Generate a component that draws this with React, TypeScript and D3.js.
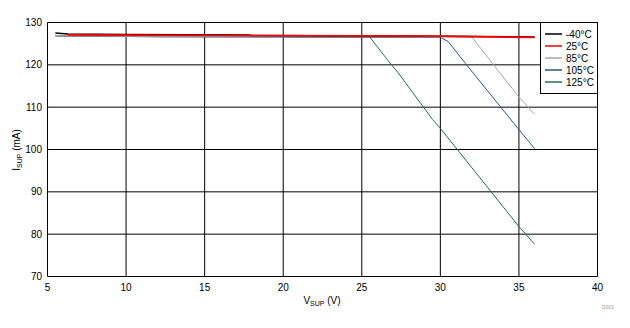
import React from "react";
import * as d3 from "d3";

const seriesNames = ["-40°C", "25°C", "85°C", "105°C", "125°C"];
const seriesColors = ["#000000", "#ff0000", "#a6a6a6", "#2a5a7c", "#2b6b4c"];

const sM40: [number, number][] = [[5.5, 127.5], [6.3, 127.3], [10, 127.15], [17.8, 127.05], [18, 126.95], [32.5, 126.7], [36, 126.6]];
const s25: [number, number][] = [[6.3, 127.1], [10, 127.0], [20, 126.9], [30, 126.8], [33, 126.6], [36, 126.5]];
const s85: [number, number][] = [[5.5, 126.9], [12, 126.7], [20, 126.7], [32, 126.6], [33.3, 120.4], [35, 112.4], [36, 108.3]];
const s105: [number, number][] = [[5.5, 126.9], [12, 126.6], [25, 126.5], [30, 126.5], [30.5, 125.5], [31.6, 120.3], [35, 104.7], [36, 100.2]];
const s125: [number, number][] = [[5.5, 126.8], [12, 126.7], [25, 126.7], [25.5, 126.6], [26.8, 120.4], [27.3, 118.2], [29.5, 107.1], [30, 105], [35, 81.8], [36, 77.6]];

const seriesData = [sM40, s25, s85, s105, s125];
const seriesWidths = [1.5, 1.8, 1, 1, 1];
const drawOrder = [4, 3, 2, 0, 1];

const xTicks = [5, 10, 15, 20, 25, 30, 35, 40];
const yTicks = [70, 80, 90, 100, 110, 120, 130];

export default function App() {
  const W = 630, H = 328;
  const left = 47.5, right = 597.5, top = 22.5, bottom = 276.5;
  const x = d3.scaleLinear().domain([5, 40]).range([left, right]);
  const y = d3.scaleLinear().domain([70, 130]).range([bottom, top]);
  const line = d3.line<[number, number]>().x(d => x(d[0])).y(d => y(d[1]));
  const font = "Arial, 'Liberation Sans', sans-serif";
  const legX = 540.5, legY = 22.5, legW = 57, legH = 71;
  return (
    <svg width={W} height={H} style={{ position: "absolute", left: 0, top: 0 }} fontFamily={font}>
      <rect x={0} y={0} width={W} height={H} fill="#fff" />
      {xTicks.map(t => (
        <line key={"gx" + t} x1={x(t)} x2={x(t)} y1={top} y2={bottom} stroke="#000" strokeWidth={1} />
      ))}
      {yTicks.map(t => (
        <line key={"gy" + t} x1={left} x2={right} y1={y(t)} y2={y(t)} stroke="#000" strokeWidth={1} />
      ))}
      {drawOrder.map(i => (
        <path key={"s" + i} d={line(seriesData[i]) || ""} fill="none" stroke={seriesColors[i]} strokeWidth={seriesWidths[i]} />
      ))}
      {yTicks.map(t => (
        <text key={"ty" + t} x={42} y={y(t) + 3.5} fontSize={10} textAnchor="end" fill="#000">{t}</text>
      ))}
      {xTicks.map(t => (
        <text key={"tx" + t} x={x(t)} y={291} fontSize={10} textAnchor="middle" fill="#000">{t}</text>
      ))}
      <text x={322} y={304} fontSize={10} textAnchor="middle" fill="#000">
        V<tspan fontSize={7} dy={2}>SUP</tspan><tspan dy={-2}> (V)</tspan>
      </text>
      <text transform={`translate(20,150) rotate(-90)`} fontSize={10} textAnchor="middle" fill="#000">
        I<tspan fontSize={7} dy={2}>SUP</tspan><tspan dy={-2}> (mA)</tspan>
      </text>
      <text x={614} y={309} fontSize={5} textAnchor="end" fill="#999">D001</text>
      <rect x={legX} y={legY} width={legW} height={legH} fill="#fff" stroke="#000" strokeWidth={1} />
      {seriesNames.map((n, i) => (
        <g key={"l" + i}>
          <line x1={545} x2={562} y1={34 + i * 12} y2={34 + i * 12} stroke={seriesColors[i]} strokeWidth={1.5} />
          <text x={566} y={37.5 + i * 12} fontSize={10} fill="#000">{n}</text>
        </g>
      ))}
    </svg>
  );
}
